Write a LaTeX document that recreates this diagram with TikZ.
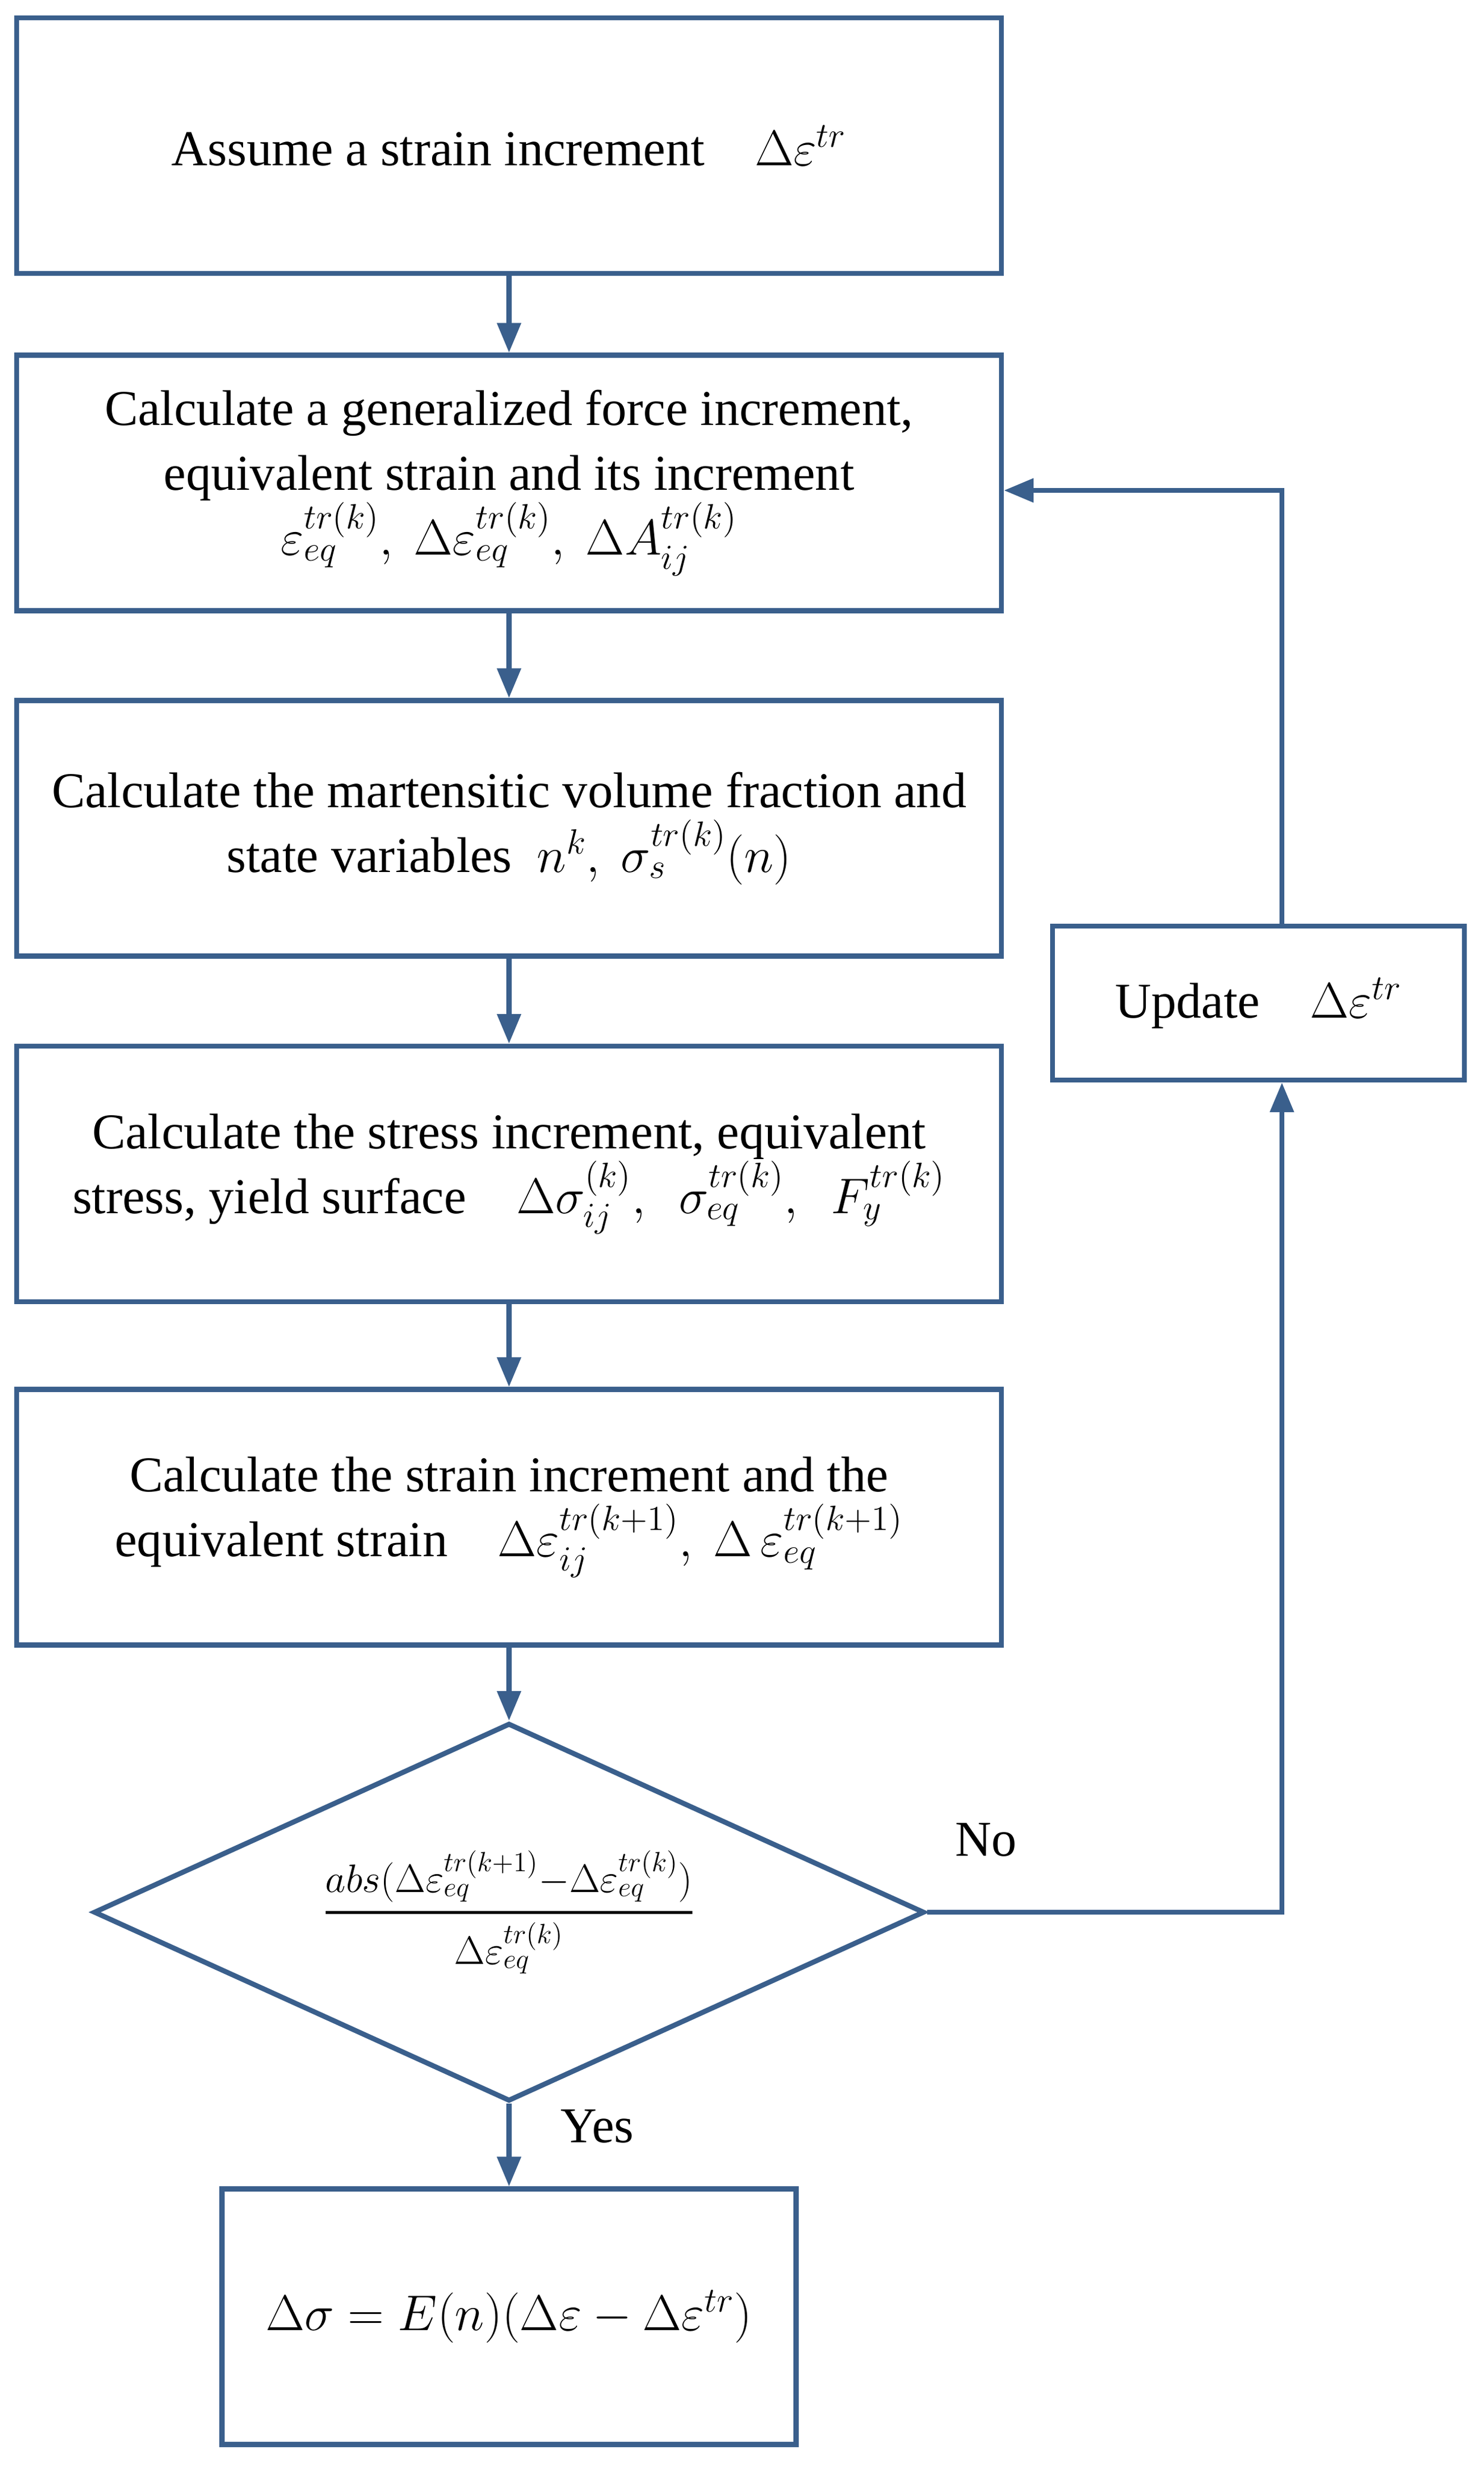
\documentclass[tikz,border=0pt]{standalone}
\usepackage{fix-cm}
\usepackage{amsmath}
\usepackage{fontspec}
\setmainfont{Liberation Serif}
\usetikzlibrary{shapes.geometric,arrows.meta,positioning}
\definecolor{flowblue}{RGB}{58,95,140}

\begin{document}
\begin{tikzpicture}[
  block/.style={draw=flowblue, line width=2.4pt, rectangle, minimum width=16.57cm, minimum height=4.3cm, inner sep=0pt, align=center, font=\fontsize{24}{31}\selectfont},
  decision/.style={draw=flowblue, line width=2.4pt, diamond, aspect=2.2, minimum width=13.98cm, minimum height=6.36cm, inner sep=0pt, font=\fontsize{19}{22}\selectfont},
  flow/.style={draw=flowblue, line width=2.4pt, -{Triangle[length=5mm,width=3.9mm]}},
  lbl/.style={font=\fontsize{24}{31}\selectfont, inner sep=0pt}
  ]
  \useasboundingbox (0,0) rectangle (24.96,-41.47);

  % main column
  \node [block] (assume) at (8.565,-2.45) {Assume a strain increment\quad $\Delta\varepsilon^{tr}$};
  \node [block] (force) at (8.565,-8.125) {Calculate a generalized force increment,\\ equivalent strain and its increment\\ $\varepsilon_{eq}^{tr(k)},\ \Delta\varepsilon_{eq}^{tr(k)},\ \Delta A_{ij}^{tr(k)}$};
  \node [block] (frac) at (8.565,-13.935) {Calculate the martensitic volume fraction and\\ state variables\ \ $n^{k},\ \sigma_{s}^{tr(k)}(n)$};
  \node [block] (stress) at (8.565,-19.75) {Calculate the stress increment, equivalent\\ stress, yield surface\quad $\Delta\sigma_{ij}^{(k)},\ \ \sigma_{eq}^{tr(k)},\ \ F_{y}^{tr(k)}$};
  \node [block] (strain) at (8.565,-25.525) {Calculate the strain increment and the\\ equivalent strain\quad $\Delta\varepsilon_{ij}^{tr(k+1)},\ \Delta\,\varepsilon_{eq}^{tr(k+1)}$};
  \node [decision] (conv) at (8.565,-32.17) {$\genfrac{}{}{1.4pt}{0}{abs(\Delta\varepsilon_{eq}^{tr(k+1)}{-}\Delta\varepsilon_{eq}^{tr(k)})}{\Delta\varepsilon_{eq}^{tr(k)}}$};
  \node [block, minimum width=9.66cm] (result) at (8.565,-38.975) {$\Delta\sigma=E(n)(\Delta\varepsilon-\Delta\varepsilon^{tr})$};

  % loop back
  \node [block, minimum width=6.93cm, minimum height=2.59cm] (update) at (21.175,-16.875) {Update\quad $\Delta\varepsilon^{tr}$};
  \coordinate (back) at (21.57,-8.25);

  \draw [flow] (assume) -- (force);
  \draw [flow] (force) -- (frac);
  \draw [flow] (frac) -- (stress);
  \draw [flow] (stress) -- (strain);
  \draw [flow] (strain) -- (conv);
  \draw [flow] (conv) -- (result);
  \draw [flow] (conv.east) -| (back |- update.south);
  \draw [flow] (back |- update.north) -- (back) -- (force.east |- back);

  \node [lbl] (no) at (16.59,-30.95) {No};
  \node [lbl] (yes) at (10.05,-35.77) {Yes};
\end{tikzpicture}
\end{document}
